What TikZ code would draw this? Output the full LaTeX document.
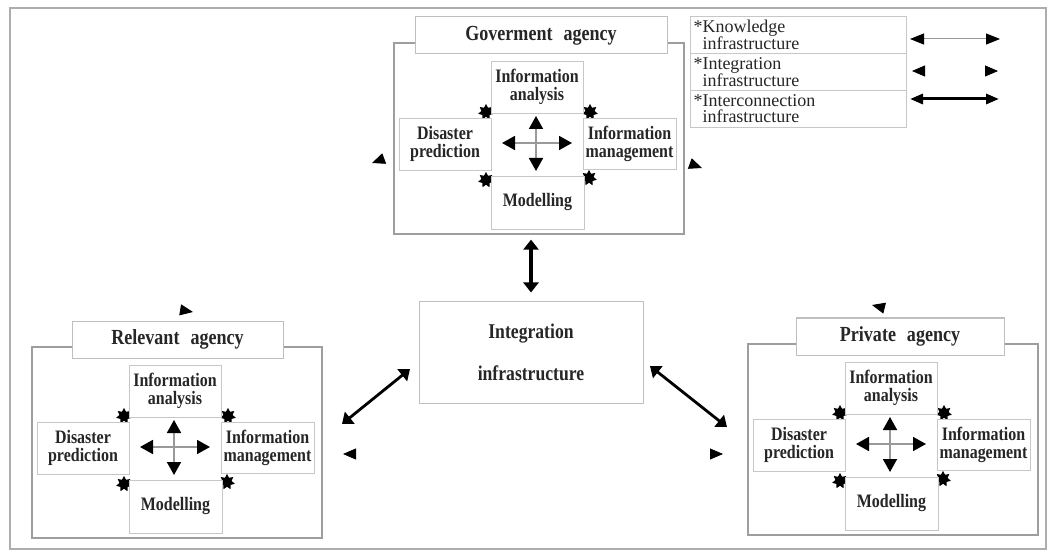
\documentclass[tikz,border=0pt]{standalone}
\usepackage{fontspec}
\setmainfont{Liberation Serif}
\newfontfamily\condfont[FakeStretch=0.84]{Liberation Serif}
\usetikzlibrary{arrows.meta,shapes.geometric}

\tikzset{
  frame/.style={draw=black!32, line width=1.2pt},
  groupbox/.style={draw=black!38, line width=1.3pt, fill=white, inner sep=0pt},
  titlebox/.style={draw=black!25, line width=1pt, fill=white, inner sep=0pt,
    font=\condfont\bfseries\fontsize{21.5}{22}\selectfont, text=black!85},
  cell/.style={draw=black!22, line width=0.8pt, fill=white, inner sep=0pt, align=center,
    font=\condfont\bfseries\fontsize{19}{18}\selectfont, text=black!85},
  corebox/.style={draw=black!25, line width=1pt, fill=white, inner sep=0pt, align=center,
    font=\condfont\bfseries\fontsize{21}{42}\selectfont, text=black!85},
  legendbox/.style={draw=black!22, line width=1pt, fill=white, anchor=north west,
    minimum width=216pt, minimum height=37pt, inner xsep=2pt, inner ysep=0pt,
    text width=210pt, align=left, font=\fontsize{18}{16}\selectfont, text=black!85},
  spark/.style={star, star points=7, star point ratio=1.7, fill=black, draw=none,
    inner sep=0pt, minimum size=16pt},
  hubline/.style={draw=black!40, line width=1.8pt,
    {Triangle[length=13pt,width=14pt,color=black]}-{Triangle[length=13pt,width=14pt,color=black]}},
  knowlink/.style={draw=black!40, line width=1pt,
    {Triangle[length=14pt,width=11pt,color=black]}-{Triangle[length=14pt,width=11pt,color=black]}},
  intlink/.style={draw=white, line width=0.8pt,
    {Triangle[length=13pt,width=11pt,color=black]}-{Triangle[length=13pt,width=11pt,color=black]}},
  conlink/.style={draw=black, line width=3.2pt,
    {Triangle[length=10pt,width=15pt]}-{Triangle[length=10pt,width=15pt]}},
}

% One agency cluster: name, top-left corner of its frame, title offset, title width, title
\newcommand\agencyblock[6]{%
  \begin{scope}[shift={(#2,#3)}]
    \node[groupbox, minimum width=290pt, minimum height=191pt] (#1) at (145,95.5) {};
    \node[titlebox, minimum width=#5pt, minimum height=37pt] (#1-title) at ({#4+#5/2},-7.5) {#6};
    \node[spark] (#1-s1) at (92,69) {};
    \node[spark] (#1-s2) at (196,69) {};
    \node[spark] (#1-s3) at (92,137) {};
    \node[spark] (#1-s4) at (195,135) {};
    \node[cell, minimum width=92pt, minimum height=52pt] (#1-ia) at (143,44) {Information\\analysis};
    \node[cell, minimum width=92pt, minimum height=52pt] (#1-dp) at (51,101) {Disaster\\prediction};
    \node[cell, minimum width=93pt, minimum height=51pt] (#1-im) at (235.5,100.5) {Information\\management};
    \node[cell, minimum width=93pt, minimum height=53pt] (#1-mo) at (143.5,159.5) {Modelling};
    \coordinate (#1-hw) at (108,100);
    \coordinate (#1-he) at (178,100);
    \coordinate (#1-hn) at (142,73);
    \coordinate (#1-hs) at (142,128);
    \draw[hubline] (#1-hw) -- (#1-he);
    \draw[hubline] (#1-hn) -- (#1-hs);
  \end{scope}}

\begin{document}
\begin{tikzpicture}[x=1pt,y=-1pt]
  \useasboundingbox (0,0) rectangle (1052,553);

  % integration links between the agencies (only their heads show)
  \coordinate (ga) at (372,163);
  \coordinate (gb) at (702,168);
  \coordinate (ra) at (343,454);
  \coordinate (pa) at (723,454);
  \coordinate (rt) at (193,312);
  \coordinate (pt) at (872,305);
  \draw[intlink] (ga) .. controls (432,141) and (642,146) .. (gb);
  \draw[intlink] (ra) -- (pa);
  \draw[intlink] (rt) .. controls (133,302) and (932,320) .. (pt);

  % outer frame
  \node[frame, minimum width=1036pt, minimum height=541pt, inner sep=0pt] (page) at (528,278.5) {};

  \agencyblock{gov}{394}{43}{21}{252}{Goverment\hspace{0.3em} agency}
  \agencyblock{rel}{32}{347}{40}{211}{Relevant\hspace{0.3em} agency}
  \agencyblock{pri}{748}{344}{48}{208}{Private\hspace{0.3em} agency}

  % integration infrastructure
  \node[corebox, minimum width=224pt, minimum height=101pt] (integ) at (531,352.5)
    {Integration\\infrastructure};

  % interconnection links
  \draw[conlink, shorten <=5pt, shorten >=9pt] (gov.south -| integ.north) -- (integ.north);
  \coordinate (il) at (410,369);
  \coordinate (rl) at (342,424);
  \coordinate (ir) at (650,366);
  \coordinate (pr) at (727,427);
  \draw[conlink, line width=2.8pt] (il) -- (rl);
  \draw[conlink, line width=2.8pt] (ir) -- (pr);

  % legend
  \node[legendbox] (lg1) at (690,16) {*Knowledge\\\hspace*{9pt}infrastructure};
  \node[legendbox] (lg2) at (690,53) {*Integration\\\hspace*{9pt}infrastructure};
  \node[legendbox] (lg3) at (690,90) {*Interconnection\\\hspace*{9pt}infrastructure};
  \coordinate (k1) at (910,39);
  \coordinate (k2) at (1000,39);
  \coordinate (n1) at (912,71);
  \coordinate (n2) at (998,71);
  \coordinate (c1) at (910,99);
  \coordinate (c2) at (999,99);
  \draw[knowlink] (k1) -- (k2);
  \draw[intlink] (n1) -- (n2);
  \draw[conlink, line width=3pt, {Triangle[length=13pt,width=10pt]}-{Triangle[length=13pt,width=10pt]}] (c1) -- (c2);
\end{tikzpicture}
\end{document}
